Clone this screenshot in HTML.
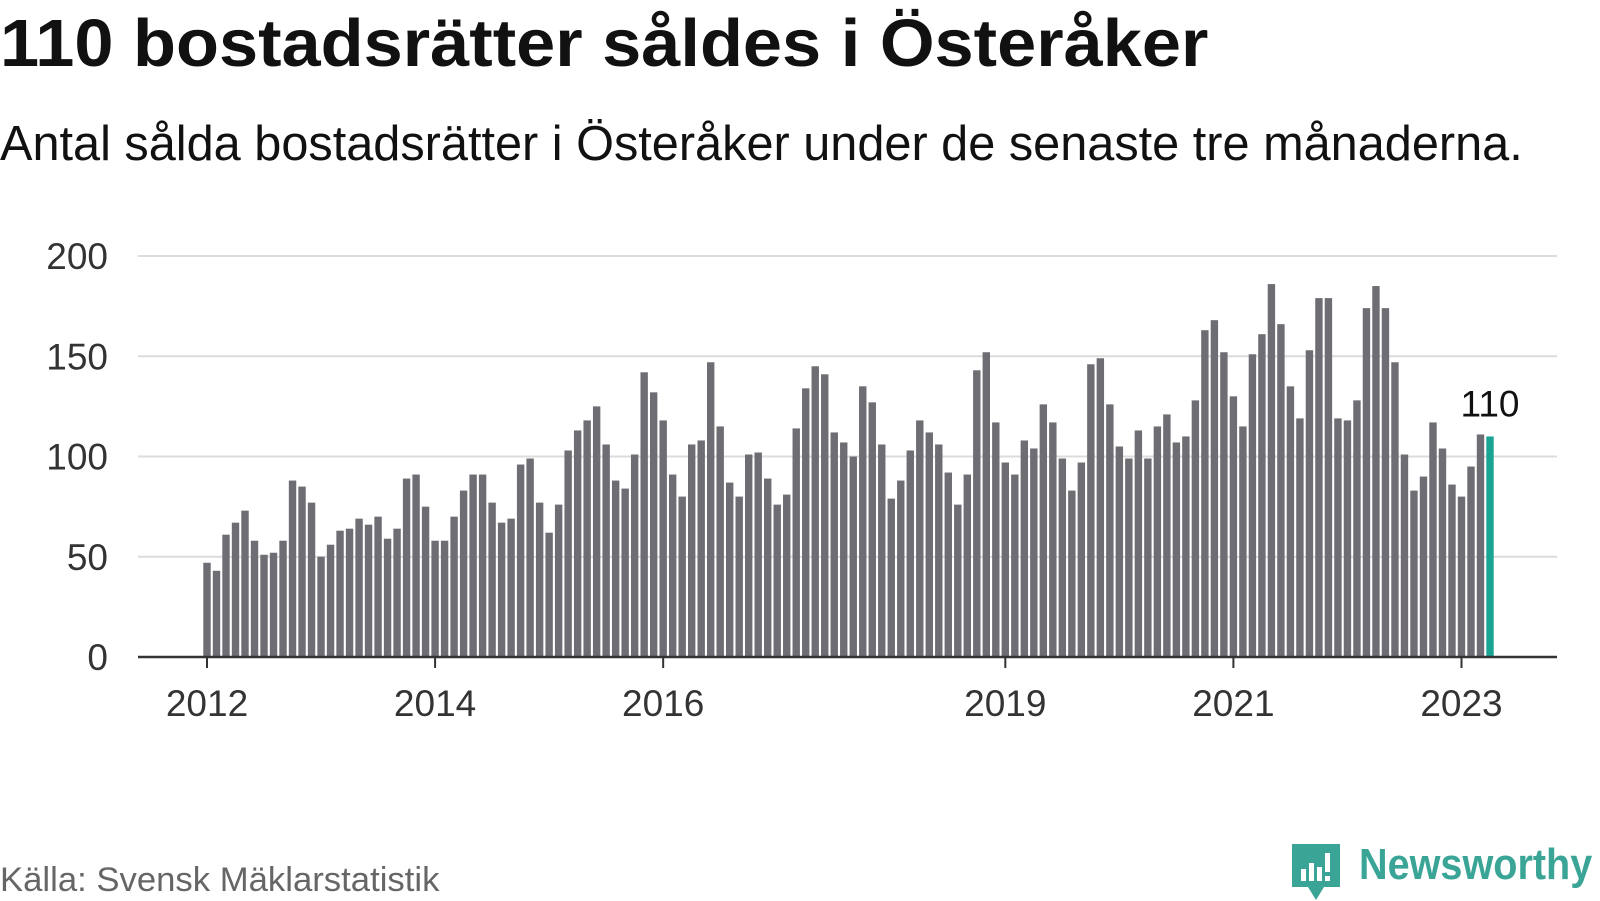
<!DOCTYPE html>
<html><head><meta charset="utf-8"><style>
body{margin:0;width:1600px;height:900px;background:#fff;font-family:"Liberation Sans",sans-serif;overflow:hidden;position:relative}
.t{position:absolute;left:0;white-space:nowrap;transform-origin:0 0}
#title{top:5px;font-size:67px;font-weight:bold;color:#111;transform:scaleX(1.05)}
#sub{top:116px;font-size:49px;color:#111;transform:scaleX(0.993)}
#src{top:861px;font-size:34px;color:#666;transform:scaleX(1.02)}
#logo{position:absolute;left:1291px;top:843px;display:flex;align-items:center;white-space:nowrap}
</style></head><body>
<div id="title" class="t">110 bostadsrätter såldes i Österåker</div>
<div id="sub" class="t">Antal sålda bostadsrätter i Österåker under de senaste tre månaderna.</div>
<svg id="chart" width="1600" height="900" style="position:absolute;left:0;top:0"></svg>
<div id="src" class="t">Källa: Svensk Mäklarstatistik</div>
<div id="logo">
<svg width="50" height="58"><path d="M1 1 H49 V44 H33 L25 57 L17 44 H1 Z" fill="#3aa596"/><rect x="10" y="26" width="5" height="12" fill="#fff"/><rect x="18" y="20" width="5" height="18" fill="#fff"/><rect x="26" y="24" width="5" height="14" fill="#fff"/><rect x="34" y="10" width="5" height="19" fill="#fff"/><rect x="34" y="33" width="5" height="5" fill="#fff"/></svg>
<span style="font-size:44px;font-weight:bold;color:#3aa596;margin-left:18px;display:inline-block;transform:scaleX(0.9);transform-origin:0 50%;margin-top:-14px">Newsworthy</span>
</div>
<script>
const values=[47,43,61,67,73,58,51,52,58,88,85,77,
50,56,63,64,69,66,70,59,64,89,91,75,
58,58,70,83,91,91,77,67,69,96,99,77,
62,76,103,113,118,125,106,88,84,101,142,132,
118,91,80,106,108,147,115,87,80,101,102,89,
76,81,114,134,145,141,112,107,100,135,127,106,
79,88,103,118,112,106,92,76,91,143,152,117,
97,91,108,104,126,117,99,83,97,146,149,126,
105,99,113,99,115,121,107,110,128,163,168,152,
130,115,151,161,186,166,135,119,153,179,179,119,
118,128,174,185,174,147,101,83,90,117,104,86,
80,95,111,110];
const startYear=2012;
const yTicks=[0,50,100,150,200];
const xTickYears=[2012,2014,2016,2019,2021,2023];
const highlightLabel="110";
const svg=document.getElementById('chart');
const NS='http://www.w3.org/2000/svg';
const x0=138,x1=1557,y0=657,y200=256;
const y=v=>y0-(v/200)*(y0-y200);
const pitch=(1490-207)/135;
const x=i=>207+i*pitch;
function mk(t,a){const e=document.createElementNS(NS,t);for(const k in a)e.setAttribute(k,a[k]);svg.appendChild(e);return e;}
yTicks.forEach(t=>{
 if(t>0){const g=mk('line',{x1:x0,x2:x1,y1:y(t),y2:y(t),stroke:'#dcdcdc','stroke-width':2});
 
 }
 const l=mk('text',{x:108,y:y(t)+13,'text-anchor':'end','font-size':37,fill:'#333','font-family':'Liberation Sans, sans-serif'});
 l.textContent=t;
 
 
});
values.forEach((v,i)=>{
 const last=i===values.length-1;
 const r=mk('rect',{x:x(i)-3.7,y:y(v),width:7.4,height:y0-y(v),fill:last?'#1aa593':'#6e6d73'});
 
 
});
const ax=mk('line',{x1:x0,x2:x1,y1:y0,y2:y0,stroke:'#333','stroke-width':2.5});


xTickYears.forEach(yr=>{
 const i=(yr-startYear)*12;
 const tk=mk('line',{x1:x(i),x2:x(i),y1:y0,y2:y0+11,stroke:'#333','stroke-width':2});
 
 
 const l=mk('text',{x:x(i),y:716,'text-anchor':'middle','font-size':37,fill:'#333','font-family':'Liberation Sans, sans-serif'});
 l.textContent=yr;
 
 
});
const li=values.length-1;
const lab=mk('text',{x:x(li),y:y(values[li])-20,'text-anchor':'middle','font-size':37,fill:'#111','font-family':'Liberation Sans, sans-serif'});
lab.textContent=highlightLabel;


</script>
</body></html>
